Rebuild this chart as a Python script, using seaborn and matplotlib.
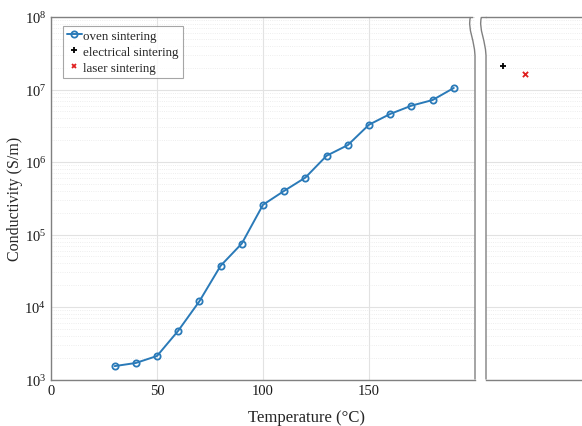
import numpy as np
import pandas as pd
import matplotlib
matplotlib.use("Agg")
import matplotlib.pyplot as plt
from matplotlib.lines import Line2D
from matplotlib.path import Path
from matplotlib.patches import PathPatch
import seaborn as sns

# ---- data ----
temperature = [30, 40, 50, 60, 70, 80, 90, 100, 110, 120, 130, 140, 150, 160, 170, 180, 190]
conductivity = [1.53e3, 1.69e3, 2.11e3, 4.7e3, 1.2e4, 3.7e4, 7.5e4, 2.57e5, 4.0e5, 6.1e5,
                1.22e6, 1.71e6, 3.27e6, 4.6e6, 5.98e6, 7.16e6, 1.05e7]
electrical_x = [1]
electrical_y = [2.1e7]
laser_x = [2]
laser_y = [1.64e7]
xticks = [0, 50, 100, 150]
labels = ["oven sintering", "electrical sintering", "laser sintering"]

sns.set_style("white")
plt.rcParams['font.family'] = ['Liberation Serif', 'DejaVu Serif']
plt.rcParams['mathtext.fontset'] = 'custom'
plt.rcParams['mathtext.rm'] = 'Liberation Serif'
plt.rcParams['mathtext.it'] = 'Liberation Serif:italic'

W, H = 582, 427
fig = plt.figure(figsize=(W / 100, H / 100), dpi=100)

def px_axes(x0, x1, y0, y1):
    return fig.add_axes([x0 / W, 1 - y1 / H, (x1 - x0) / W, (y1 - y0) / H])

ax1 = px_axes(51, 475, 18, 380.5)
ax2 = px_axes(486, 600, 18, 380.5)

blue = '#2A7AB8'
oven = pd.DataFrame({'T': temperature, 'C': conductivity})
sns.lineplot(data=oven, x='T', y='C', ax=ax1, color=blue, lw=1.4, marker='o',
             markersize=4.5, markerfacecolor='none', markeredgecolor=blue,
             markeredgewidth=1.3, zorder=3)

ax1.set_yscale('log')
ax1.set_ylim(1e3, 1e8)
ax1.set_xlim(0, 200)
ax1.set_xticks(xticks)
ax1.set_xticklabels([str(t) for t in xticks])
ax1.set_xlabel('')
ax1.set_ylabel('Conductivity (S/m)', fontsize=11.5, labelpad=1)

el = pd.DataFrame({'x': electrical_x, 'y': electrical_y})
la = pd.DataFrame({'x': laser_x, 'y': laser_y})
sns.scatterplot(data=el, x='x', y='y', ax=ax2, marker='+', color='black', s=22, linewidth=1.3, zorder=3)
sns.scatterplot(data=la, x='x', y='y', ax=ax2, marker='x', color='#E02020', s=14, linewidth=1.3, zorder=3)
ax2.set_yscale('log')
ax2.set_ylim(1e3, 1e8)
ax2.set_xlim(0.23, 0.23 + 114 / 22)
ax2.set_xlabel('')
ax2.set_ylabel('')
ax2.set_xticks([])
ax2.tick_params(axis='y', which='both', left=False, labelleft=False)

for ax in (ax1, ax2):
    ax.grid(True, which='major', axis='y', color='#e2e2e2', lw=0.8)
    ax.grid(True, which='minor', axis='y', color='#e8e8e8', lw=0.6, ls=':')
    for s in ax.spines.values():
        s.set_color('#808080')
        s.set_linewidth(1.0)
    ax.set_axisbelow(True)
ax1.grid(True, which='major', axis='x', color='#e2e2e2', lw=0.8)
ax1.spines['right'].set_visible(False)
ax2.spines['left'].set_visible(False)
ax2.spines['right'].set_visible(False)
# shorten the top spine near the break
ax1.spines['top'].set_bounds(0, (471.5 - 51) / 424 * 200)

ax1.tick_params(axis='both', which='both', direction='in', colors='#404040',
                labelcolor='#1a1a1a', labelsize=10.5)
ax1.tick_params(axis='x', which='major', length=4, top=False)
ax1.tick_params(axis='y', which='major', length=4)
ax1.tick_params(axis='y', which='minor', length=2)
ax1.tick_params(axis='x', which='minor', bottom=False)

# break lines (figure pixel coords): small S curve at the top, then vertical
def break_path(x0):
    verts = [(x0 - 3.5, 18), (x0 - 7, 30), (x0 + 1.5, 42), (x0 + 1, 60), (x0 + 1, 380.5)]
    codes = [Path.MOVETO, Path.CURVE4, Path.CURVE4, Path.CURVE4, Path.LINETO]
    v = [(x / W, 1 - y / H) for x, y in verts]
    return PathPatch(Path(v, codes), transform=fig.transFigure, fill=False,
                     edgecolor='#808080', lw=1.0)
for x0 in (474, 485):
    fig.add_artist(break_path(x0))
fig.add_artist(Line2D([481.5 / W, 486 / W], [1 - 18 / H, 1 - 18 / H], color='#808080', lw=1.0))

# legend
handles = [
    Line2D([], [], color=blue, lw=1.4, marker='o', markersize=4.5, markerfacecolor='none',
           markeredgewidth=1.3),
    Line2D([], [], color='black', lw=0, marker='+', markersize=5, markeredgewidth=1.3),
    Line2D([], [], color='#E02020', lw=0, marker='x', markersize=3.5, markeredgewidth=1.3),
]
leg = ax1.legend(handles, labels, loc='upper left', bbox_to_anchor=(0.028, 0.976),
                 fontsize=9.4, frameon=True, fancybox=False, handlelength=1.15,
                 handletextpad=0.1, borderpad=0.3, labelspacing=0.3, borderaxespad=0)
leg.get_frame().set_edgecolor('#909090')
leg.get_frame().set_linewidth(0.8)

fig.text(306 / W, 1 - 418 / H, 'Temperature (°C)', ha='center', va='center', fontsize=12)

fig.savefig('out.png', dpi=100)
